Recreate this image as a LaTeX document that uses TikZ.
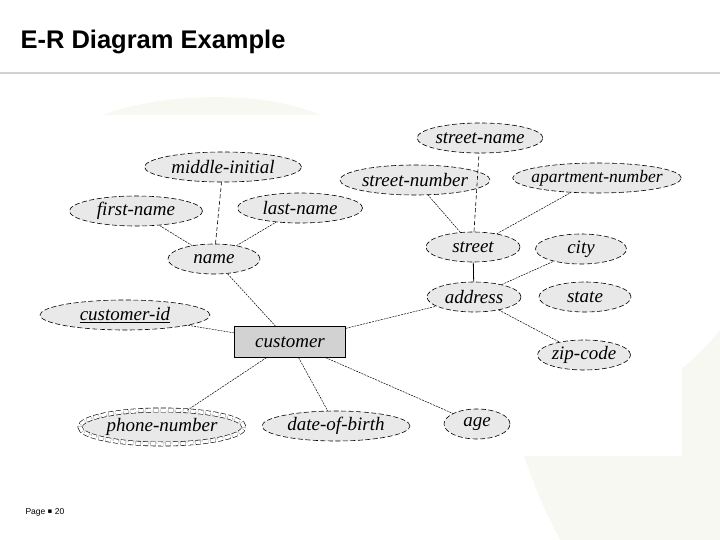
\documentclass[tikz,border=0pt]{standalone}
\usepackage{fontspec}
\usepackage{tikz}
\usetikzlibrary{shapes.geometric}
\usetikzlibrary{positioning}
\setmainfont{Liberation Serif}
\newfontfamily\titlefont{Liberation Sans}
\newfontfamily\symfont{DejaVu Sans}

\definecolor{attrfill}{HTML}{E9E9E9}
\definecolor{entfill}{HTML}{D2D2D2}
\definecolor{swoosh}{HTML}{F6F8F1}

\begin{document}
\begin{tikzpicture}[x=1pt, y=-1pt,
        font=\fontsize{19}{22}\selectfont\itshape]

        \useasboundingbox (0, 0) rectangle (720, 540);

        % Styles for the attribute ellipses, the entity box and the links
        \tikzset{
            attr/.style={ellipse, draw, dash pattern=on 5pt off 2.5pt,
                line width=0.6pt, fill=attrfill,
                inner sep=0pt, minimum height=30pt},
            multiattr/.style={attr, double, double distance=3.5pt},
            entity/.style={rectangle, draw, thin, fill=entfill,
                inner sep=0pt, minimum width=111pt, minimum height=31pt},
            link/.style={dash pattern=on 2pt off 1pt, line width=0.5pt},
            vlink/.style={dash pattern=on 4pt off 2.5pt, line width=0.6pt}
        }

        % Faint background of the slide
        \fill[swoosh] (80, 125) .. controls (140, 92) and (260, 88) .. (320, 115)
            -- cycle;
        \fill[swoosh] (520, 445) .. controls (610, 430) and (690, 370) .. (720, 330)
            -- (720, 540) -- (560, 540) .. controls (540, 500) .. (520, 445);
        \fill[white] (38, 115) rectangle (682, 456);

        % Title of the slide
        \node[anchor=west, font=\titlefont\bfseries\fontsize{25.5}{28}\selectfont]
            (title) at (17, 42) {E-R Diagram Example};
        \draw[gray!35, line width=2pt] (0, 73) -- (720, 73);
        \node[anchor=west, font=\titlefont\fontsize{8.5}{10}\selectfont]
            (page) at (22, 512) {Page \raisebox{0.5pt}{\symfont\fontsize{7}{8}\selectfont ▪} 20};

        % Scope used for the entity and its attributes
        \begin{scope}
            \node[entity] (C) at (290, 342) {customer};

            \node[attr, minimum width=170pt] (Cid) at (125, 315)
            {\underline{customer-id}};
            \node[attr, minimum width=92pt] (N) at (214, 259) {name};
            \node[attr, minimum width=133pt] (N1) at (136, 211) {first-name};
            \node[attr, minimum width=157pt] (N2) at (223, 167) {middle-initial};
            \node[attr, minimum width=125pt] (N3) at (300, 208) {last-name};

            \node[attr, minimum width=94pt] (A) at (474, 297) {address};
            \node[attr, minimum width=94pt] (S) at (473, 247) {street};
            \node[attr, minimum width=150pt, inner xsep=-4pt] (S1) at (415, 180)
            {street-number};
            \node[attr, minimum width=124pt] (S2) at (480, 138) {street-name};
            \node[attr, minimum width=160pt, inner xsep=-6pt,
                font=\fontsize{17.5}{20}\selectfont\itshape] (S3) at (597, 178)
            {apartment-number};
            \node[attr, minimum width=91pt] (A1) at (581, 249) {city};
            \node[attr, minimum width=92pt] (A2) at (585, 297) {state};
            \node[attr, minimum width=93pt] (A3) at (584, 355) {zip-code};

            \node[multiattr, minimum width=164pt, minimum height=34pt] (P)
            at (162, 427) {phone-number};
            \node[attr, minimum width=148pt] (D) at (336, 426) {date-of-birth};
            \node[attr, minimum width=66pt] (G) at (477, 424) {age};
        \end{scope}

        \begin{scope}
            \draw[link] (C) -- (Cid);
            \draw[link] (C) -- (N);
            \draw[link] (C) -- (A);
            \foreach\x in {P, D, G}
            \draw[link] (C) -- (\x);

            \draw[link] (N) -- (N1);
            \draw[vlink] (N) -- (N2);
            \draw[link] (N) -- (N3);

            \draw[line width=0.8pt] (S) -- (A);
            \draw[link] (A) -- (A1);
            \draw[link] (A) -- (A3);

            \draw[link] (S) -- (S1);
            \draw[vlink] (S) -- (S2);
            \draw[link] (S) -- (S3);
        \end{scope}

\end{tikzpicture}
\end{document}
